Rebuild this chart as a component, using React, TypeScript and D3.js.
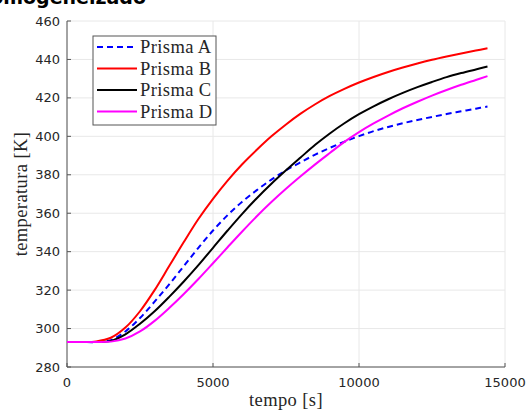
import React from "react";
import * as d3 from "d3";

// time samples [s]
const tempo = [0, 500, 1000, 1500, 2000, 2500, 3000, 3500, 4000, 4500, 5000, 5500, 6000, 6500, 7000, 7500, 8000, 8500, 9000, 9500, 10000, 10500, 11000, 11500, 12000, 12500, 13000, 13500, 14000, 14400];

const prismaA = [293, 293, 293, 294, 298.5, 305.5, 314, 323, 332.5, 342, 351, 359, 366, 372, 377.5, 382.3, 386.5, 390.5, 394, 397.2, 400.1, 402.7, 404.9, 406.8, 408.5, 410.1, 411.6, 413, 414.4, 415.5];
const prismaB = [293, 293, 293.3, 295.2, 300.5, 309, 320, 332.5, 345, 357, 367.5, 377, 385.5, 393, 400, 406.2, 411.8, 416.7, 421, 424.7, 428, 430.9, 433.5, 435.8, 437.9, 439.8, 441.5, 443.1, 444.6, 445.8];
const prismaC = [293, 293, 293, 293.6, 297, 302.5, 309, 316.5, 324.5, 333, 342, 351, 359.7, 367.8, 375.3, 382.3, 389, 395.6, 401.5, 406.8, 411.5, 415.6, 419.3, 422.6, 425.6, 428.3, 430.8, 432.9, 434.8, 436.3];
const prismaD = [293, 293, 293, 293.2, 294.8, 298.5, 304, 310.7, 318, 325.8, 334, 342.3, 350.5, 358.4, 365.8, 372.7, 379.2, 385.4, 391.3, 397.1, 402.2, 406.7, 410.8, 414.6, 418, 421.2, 424.1, 426.8, 429.3, 431.3];

const xTicks = [0, 5000, 10000, 15000];
const yTicks = [280, 300, 320, 340, 360, 380, 400, 420, 440, 460];

const series = [
  { name: "Prisma A", values: prismaA, color: "#0000ff", dash: "6,4" },
  { name: "Prisma B", values: prismaB, color: "#ff0000", dash: null },
  { name: "Prisma C", values: prismaC, color: "#000000", dash: null },
  { name: "Prisma D", values: prismaD, color: "#ff00ff", dash: null },
];

const W = 527;
const H = 410;
const margin = { left: 67, right: 22, top: 21, bottom: 43 };

export default function App() {
  const x = d3.scaleLinear().domain([0, 15000]).range([margin.left, W - margin.right]);
  const y = d3.scaleLinear().domain([280, 460]).range([H - margin.bottom, margin.top]);

  const line = d3
    .line<number>()
    .x((_, i) => x(tempo[i]))
    .y((d) => y(d))
    .curve(d3.curveCatmullRom.alpha(0.5));

  const tickFont = "DejaVu Sans, sans-serif";
  const serif = "Liberation Serif, serif";

  return (
    <svg width={W} height={H} style={{ position: "absolute", left: 0, top: 0, background: "#fff" }}>
      {/* title, cut by the top edge as in the original */}
      <text x={146} y={3.5} textAnchor="end" fontFamily={tickFont} fontWeight="bold" fontSize={19} fill="#000">
        Homogeneizado
      </text>

      {/* grid */}
      {yTicks.map((t) => (
        <line key={"gy" + t} x1={x(0)} x2={x(15000)} y1={y(t)} y2={y(t)} stroke="#e8e8e8" strokeWidth={1} />
      ))}
      {xTicks.map((t) => (
        <line key={"gx" + t} x1={x(t)} x2={x(t)} y1={y(280)} y2={y(460)} stroke="#e8e8e8" strokeWidth={1} />
      ))}

      {/* axes */}
      <line x1={x(0)} x2={x(15000)} y1={y(280)} y2={y(280)} stroke="#555" strokeWidth={1} />
      <line x1={x(0)} x2={x(0)} y1={y(280)} y2={y(460)} stroke="#555" strokeWidth={1} />
      {yTicks.map((t) => (
        <g key={"ty" + t}>
          <line x1={x(0)} x2={x(0) + 4} y1={y(t)} y2={y(t)} stroke="#555" />
          <text x={x(0) - 7} y={y(t)} dy="0.35em" textAnchor="end" fontFamily={tickFont} fontSize={13} fill="#262626">
            {t}
          </text>
        </g>
      ))}
      {xTicks.map((t) => (
        <g key={"tx" + t}>
          <line x1={x(t)} x2={x(t)} y1={y(280)} y2={y(280) - 4} stroke="#555" />
          <text x={x(t)} y={y(280) + 20} textAnchor="middle" fontFamily={tickFont} fontSize={13} fill="#262626">
            {t}
          </text>
        </g>
      ))}

      {/* curves */}
      {series.map((s) => (
        <path
          key={s.name}
          d={line(s.values) || ""}
          fill="none"
          stroke={s.color}
          strokeWidth={2}
          strokeDasharray={s.dash || undefined}
        />
      ))}

      {/* axis labels */}
      <text x={(x(0) + x(15000)) / 2} y={406} textAnchor="middle" fontFamily={serif} fontSize={18.5} letterSpacing={0.4} fill="#262626">
        tempo [s]
      </text>
      <text
        transform={`translate(27, ${(y(280) + y(460)) / 2}) rotate(-90)`}
        textAnchor="middle"
        fontFamily={serif}
        fontSize={18.5}
        letterSpacing={0.4}
        fill="#262626"
      >
        temperatura [K]
      </text>

      {/* legend */}
      <rect x={93} y={36} width={123} height={89} fill="#fff" stroke="#555" strokeWidth={1} />
      {series.map((s, i) => (
        <g key={"lg" + s.name} transform={`translate(0, ${47 + i * 21.5})`}>
          <line x1={97} x2={137} y1={0} y2={0} stroke={s.color} strokeWidth={2} strokeDasharray={s.dash || undefined} />
          <text x={140} y={0} dy="0.35em" fontFamily={serif} fontSize={18.5} letterSpacing={0.4} fill="#262626">
            {s.name}
          </text>
        </g>
      ))}
    </svg>
  );
}
